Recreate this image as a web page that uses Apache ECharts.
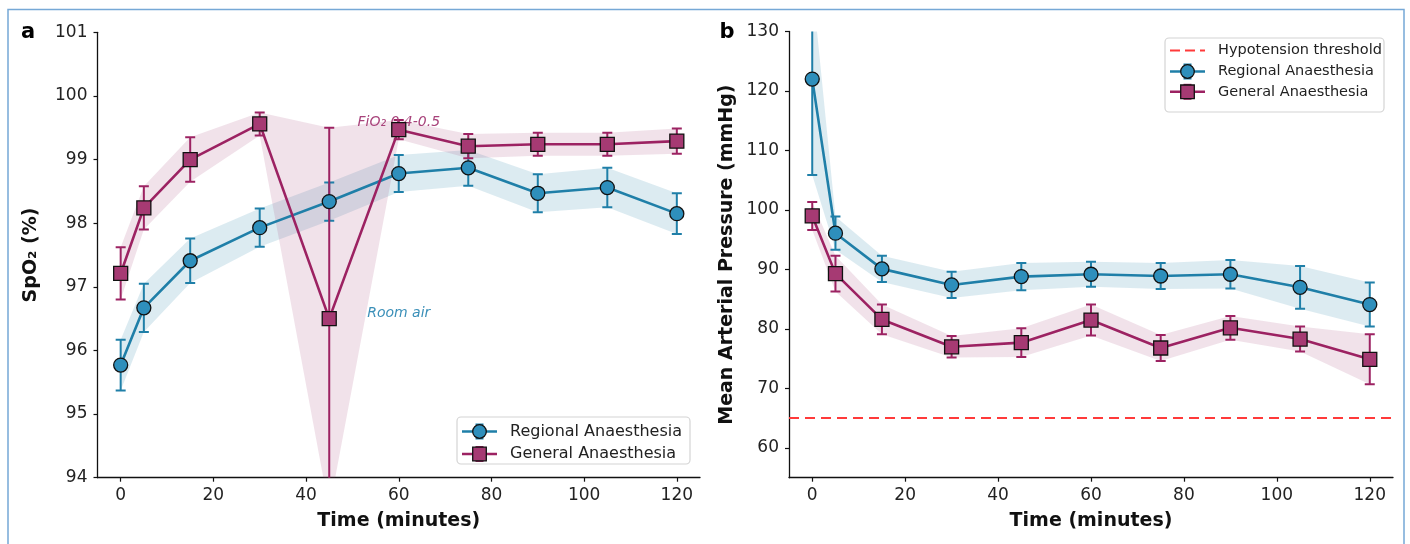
<!DOCTYPE html>
<html>
<head>
<meta charset="utf-8">
<style>
html,body{margin:0;padding:0;background:#fff;}
#chart{width:1410px;height:544px;}
</style>
<script src="https://cdn.jsdelivr.net/npm/echarts@6/dist/echarts.min.js"></script>
</head>
<body>
<div id="chart"></div>
<script>
// ---------- data ----------
const times = [0, 5, 15, 30, 45, 60, 75, 90, 105, 120];
const xTicks = [0, 20, 40, 60, 80, 100, 120];

const spo2RegionalMean = [95.77, 96.67, 97.41, 97.93, 98.34, 98.78, 98.87, 98.47, 98.56, 98.15];
const spo2RegionalErr  = [0.40, 0.38, 0.35, 0.30, 0.30, 0.29, 0.28, 0.30, 0.31, 0.32];
const spo2GeneralMean  = [97.21, 98.24, 99.00, 99.56, 96.50, 99.47, 99.21, 99.24, 99.24, 99.29];
const spo2GeneralErr   = [0.41, 0.34, 0.35, 0.18, 3.00, 0.15, 0.19, 0.18, 0.18, 0.20];
const spo2Ticks = [94, 95, 96, 97, 98, 99, 100, 101];

const mapRegionalMean = [122.0, 96.1, 90.1, 87.4, 88.8, 89.2, 88.9, 89.2, 87.0, 84.1];
const mapRegionalErr  = [16.1, 2.8, 2.2, 2.2, 2.3, 2.1, 2.2, 2.4, 3.6, 3.7];
const mapGeneralMean  = [99.0, 89.3, 81.6, 77.0, 77.7, 81.5, 76.8, 80.2, 78.3, 74.9];
const mapGeneralErr   = [2.35, 3.0, 2.5, 1.8, 2.4, 2.6, 2.2, 2.0, 2.1, 4.2];
const mapTicks = [60, 70, 80, 90, 100, 110, 120, 130];
const hypotensionThreshold = 65;

const annotationTexts = ['FiO\u2082 0.4-0.5', 'Room air'];
const annotationX = [60, 60];
const annotationY = [99.58, 96.58];

const seriesNames = ['Regional Anaesthesia', 'General Anaesthesia'];
const thresholdName = 'Hypotension threshold';

// ---------- styles ----------
const C = {
  raLine: '#1f7fa8', raMarker: '#2e8fbc', raBand: 'rgba(46,134,171,0.17)', raText: '#3a8fb8',
  gaLine: '#9c2262', gaMarker: '#a63a73', gaBand: 'rgba(162,59,114,0.15)', gaText: '#a8437b',
  red: '#ff3a3a', axis: '#111', text: '#222'
};
const FONT = 'DejaVu Sans';

const chart = echarts.init(document.getElementById('chart'), null, {renderer: 'canvas'});

function bandSeries(gi, mean, err, color) {
  const lo = mean.map((m, i) => m - err[i]);
  const hi = mean.map((m, i) => m + err[i]);
  return {
    type: 'custom', xAxisIndex: gi, yAxisIndex: gi, z: 1, clip: true, silent: true,
    data: times.map((t, i) => [t, lo[i], hi[i]]),
    encode: {x: 0, y: [1, 2]},
    renderItem: function (params, api) {
      if (params.dataIndex !== 0) return null;
      const pts = [];
      for (let i = 0; i < times.length; i++) pts.push(api.coord([times[i], hi[i]]));
      for (let i = times.length - 1; i >= 0; i--) pts.push(api.coord([times[i], lo[i]]));
      return {type: 'polygon', shape: {points: pts}, style: {fill: color, stroke: null}};
    }
  };
}

function errorSeries(gi, mean, err, color) {
  return {
    type: 'custom', xAxisIndex: gi, yAxisIndex: gi, z: 2, clip: true, silent: true,
    data: times.map((t, i) => [t, mean[i] - err[i], mean[i] + err[i]]),
    encode: {x: 0, y: [1, 2]},
    renderItem: function (params, api) {
      const x = api.value(0);
      const pLo = api.coord([x, api.value(1)]);
      const pHi = api.coord([x, api.value(2)]);
      const cw = 5;
      const st = {stroke: color, lineWidth: 2};
      return {type: 'group', children: [
        {type: 'line', shape: {x1: pLo[0], y1: pLo[1], x2: pHi[0], y2: pHi[1]}, style: st},
        {type: 'line', shape: {x1: pLo[0] - cw, y1: pLo[1], x2: pLo[0] + cw, y2: pLo[1]}, style: st},
        {type: 'line', shape: {x1: pHi[0] - cw, y1: pHi[1], x2: pHi[0] + cw, y2: pHi[1]}, style: st}
      ]};
    }
  };
}

function lineSeries(gi, name, mean, lineColor, markerColor, symbol, size) {
  return {
    type: 'line', name: name, xAxisIndex: gi, yAxisIndex: gi, z: 4,
    data: times.map((t, i) => [t, mean[i]]),
    symbol: symbol, symbolSize: size, showAllSymbol: true,
    lineStyle: {color: lineColor, width: 2.6},
    itemStyle: {color: markerColor, borderColor: '#111', borderWidth: 1.3},
    emphasis: {disabled: true}, animation: false
  };
}

function xAxis(gi) {
  return {
    type: 'value', gridIndex: gi, min: -5, max: 125,
    name: 'Time (minutes)', nameLocation: 'middle', nameGap: 34,
    nameTextStyle: {fontFamily: FONT, fontWeight: 'bold', fontSize: 19, color: '#111'},
    axisLine: {show: true, onZero: false, lineStyle: {color: C.axis, width: 1.3}},
    axisTick: {show: true, length: 4, customValues: xTicks, lineStyle: {color: C.axis, width: 1.2}},
    axisLabel: {customValues: xTicks, fontFamily: FONT, fontSize: 17, color: C.text, margin: 9},
    splitLine: {show: false}
  };
}

function yAxis(gi, min, max, ticks, name, gap) {
  return {
    type: 'value', gridIndex: gi, min: min, max: max,
    name: name, nameLocation: 'middle', nameGap: gap,
    nameTextStyle: {fontFamily: FONT, fontWeight: 'bold', fontSize: 19, color: '#111'},
    axisLine: {show: true, onZero: false, lineStyle: {color: C.axis, width: 1.3}},
    axisTick: {show: true, length: 4, customValues: ticks, lineStyle: {color: C.axis, width: 1.2}},
    axisLabel: {customValues: ticks, fontFamily: FONT, fontSize: 17, color: C.text, margin: 10},
    splitLine: {show: false}
  };
}

const annotationSeries = {
  type: 'custom', xAxisIndex: 0, yAxisIndex: 0, z: 3, clip: false, silent: true,
  data: annotationX.map((x, i) => [x, annotationY[i], i]),
  encode: {x: 0, y: 1},
  renderItem: function (params, api) {
    const i = api.value(2);
    const p = api.coord([api.value(0), api.value(1)]);
    return {type: 'text', x: p[0], y: p[1], style: {
      text: annotationTexts[i], fontFamily: FONT, fontStyle: 'italic', fontSize: 14,
      fill: i === 0 ? C.gaText : C.raText, align: 'center', verticalAlign: 'middle'
    }};
  }
};

// ---------- legend drawing (graphic) ----------
function legendRow(x0, y, kind, fontSize, label) {
  const els = [];
  const lineLen = 35, cx = x0 + lineLen / 2;
  if (kind === 'threshold') {
    els.push({type: 'line', shape: {x1: x0, y1: y, x2: x0 + lineLen, y2: y},
      style: {stroke: C.red, lineWidth: 2.2, lineDash: [10, 5]}});
  } else {
    const lc = kind === 'ra' ? C.raLine : C.gaLine;
    const mc = kind === 'ra' ? C.raMarker : C.gaMarker;
    els.push({type: 'line', shape: {x1: x0, y1: y, x2: x0 + lineLen, y2: y}, style: {stroke: lc, lineWidth: 2.6}});
    els.push({type: 'line', shape: {x1: cx, y1: y - 7, x2: cx, y2: y + 7}, style: {stroke: lc, lineWidth: 2}});
    els.push({type: 'line', shape: {x1: cx - 4, y1: y - 7, x2: cx + 4, y2: y - 7}, style: {stroke: lc, lineWidth: 2}});
    els.push({type: 'line', shape: {x1: cx - 4, y1: y + 7, x2: cx + 4, y2: y + 7}, style: {stroke: lc, lineWidth: 2}});
    if (kind === 'ra') {
      els.push({type: 'circle', shape: {cx: cx, cy: y, r: 6.8}, style: {fill: mc, stroke: '#111', lineWidth: 1.3}});
    } else {
      els.push({type: 'rect', shape: {x: cx - 6.8, y: y - 6.8, width: 13.6, height: 13.6}, style: {fill: mc, stroke: '#111', lineWidth: 1.3}});
    }
  }
  els.push({type: 'text', x: x0 + lineLen + 13, y: y, style: {
    text: label, fontFamily: FONT, fontSize: fontSize, fill: C.text, verticalAlign: 'middle', align: 'left'}});
  return els;
}

const graphics = [
  {type: 'polyline', shape: {points: [[8, 620], [8, 9.5], [1404, 9.5], [1404, 620]]},
   style: {stroke: '#76a8d6', lineWidth: 1.5, fill: null}, silent: true},
  {type: 'text', x: 28, y: 33, style: {text: 'a', fontFamily: FONT, fontWeight: 'bold', fontSize: 21, fill: '#000', align: 'center', verticalAlign: 'middle'}},
  {type: 'text', x: 727, y: 33, style: {text: 'b', fontFamily: FONT, fontWeight: 'bold', fontSize: 21, fill: '#000', align: 'center', verticalAlign: 'middle'}},
  {type: 'rect', shape: {x: 457, y: 417, width: 233, height: 47, r: 4}, style: {fill: 'rgba(255,255,255,0.85)', stroke: '#d4d4d4', lineWidth: 1.2}, z: 50},
  {type: 'rect', shape: {x: 1165, y: 38, width: 219, height: 74, r: 4}, style: {fill: 'rgba(255,255,255,0.85)', stroke: '#d4d4d4', lineWidth: 1.2}, z: 50}
];
[].concat(
  legendRow(462, 431.5, 'ra', 16, seriesNames[0]),
  legendRow(462, 454, 'ga', 16, seriesNames[1]),
  legendRow(1170, 50.5, 'threshold', 14.5, thresholdName),
  legendRow(1170, 71.5, 'ra', 14.5, seriesNames[0]),
  legendRow(1170, 91.8, 'ga', 14.5, seriesNames[1])
).forEach(e => { e.z = 51; graphics.push(e); });

const thresholdSeries = {
  type: 'line', name: thresholdName, xAxisIndex: 1, yAxisIndex: 1, z: 3, data: [],
  markLine: {silent: true, symbol: 'none', label: {show: false},
    lineStyle: {color: C.red, width: 2.2, type: [10, 6]},
    data: [{yAxis: hypotensionThreshold}]}
};

chart.setOption({
  animation: false,
  backgroundColor: '#fff',
  grid: [
    {left: 97.5, top: 32.3, width: 602.5, height: 445.4},
    {left: 789, top: 31.5, width: 604, height: 446.2}
  ],
  xAxis: [xAxis(0), xAxis(1)],
  yAxis: [
    yAxis(0, 94, 101, spo2Ticks, 'SpO\u2082 (%)', 57),
    yAxis(1, 55, 130, mapTicks, 'Mean Arterial Pressure (mmHg)', 52)
  ],
  series: [
    bandSeries(0, spo2RegionalMean, spo2RegionalErr, C.raBand),
    bandSeries(0, spo2GeneralMean, spo2GeneralErr, C.gaBand),
    errorSeries(0, spo2RegionalMean, spo2RegionalErr, C.raLine),
    errorSeries(0, spo2GeneralMean, spo2GeneralErr, C.gaLine),
    annotationSeries,
    lineSeries(0, seriesNames[0], spo2RegionalMean, C.raLine, C.raMarker, 'circle', 14),
    lineSeries(0, seriesNames[1], spo2GeneralMean, C.gaLine, C.gaMarker, 'rect', 14),

    bandSeries(1, mapRegionalMean, mapRegionalErr, C.raBand),
    bandSeries(1, mapGeneralMean, mapGeneralErr, C.gaBand),
    errorSeries(1, mapRegionalMean, mapRegionalErr, C.raLine),
    errorSeries(1, mapGeneralMean, mapGeneralErr, C.gaLine),
    thresholdSeries,
    lineSeries(1, seriesNames[0], mapRegionalMean, C.raLine, C.raMarker, 'circle', 14),
    lineSeries(1, seriesNames[1], mapGeneralMean, C.gaLine, C.gaMarker, 'rect', 14)
  ],
  graphic: graphics
});
</script>
</body>
</html>
